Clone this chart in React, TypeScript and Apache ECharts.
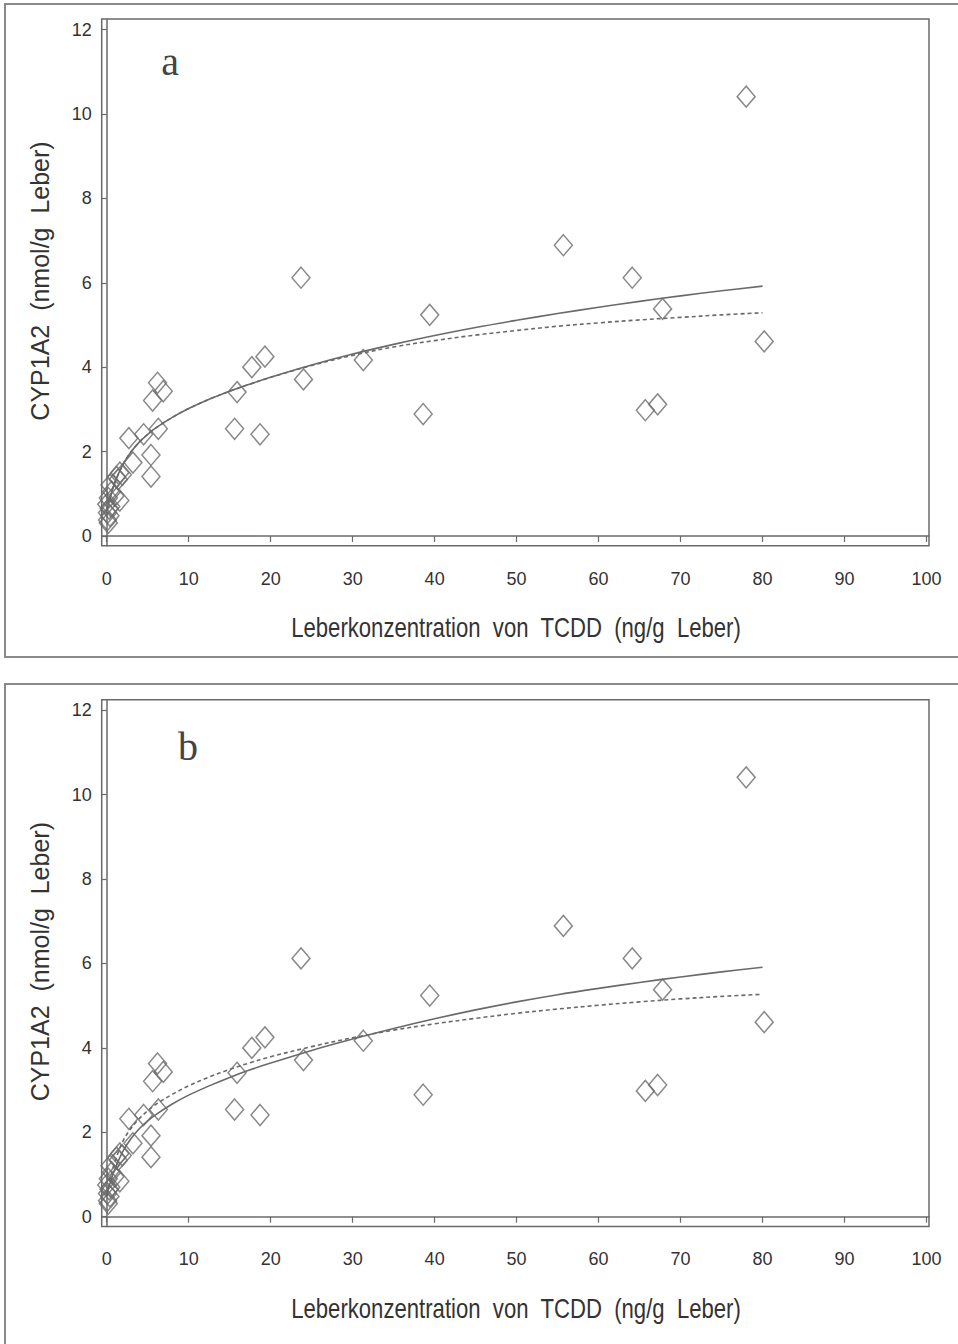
import React, { useEffect, useRef } from "react";
import * as echarts from "echarts";

// Scatter data (same in both panels)
const pointsX = [78.0, 55.7, 23.7, 64.1, 67.8, 39.4, 80.2, 31.3, 19.3, 17.7, 24.0, 15.9, 6.2, 6.9, 5.6, 38.6, 65.7, 67.2, 15.6, 18.7, 6.3, 4.5, 2.7, 5.4, 3.2, 5.4, 1.2, 1.6, 1.9, 1.4, 0.4, 1.6, 1.0, 0.6, 0.2, 0.0, 0.3, 0.1, 0.4, 0.1, 0.2, 0.5];
const pointsY = [10.41, 6.89, 6.12, 6.12, 5.38, 5.24, 4.61, 4.17, 4.25, 4.0, 3.71, 3.41, 3.63, 3.43, 3.21, 2.89, 2.98, 3.12, 2.54, 2.41, 2.54, 2.41, 2.32, 1.92, 1.74, 1.41, 1.40, 1.50, 1.45, 1.34, 1.21, 0.84, 0.95, 1.05, 0.90, 0.75, 0.65, 0.55, 0.48, 0.38, 0.31, 0.70];

// Fitted curves
const curveX = [0, 0.5, 1, 2, 3, 4, 5, 6, 8, 10, 12.5, 15, 17.5, 20, 25, 30, 35, 40, 45, 50, 55, 60, 65, 70, 75, 80];
const solidA = [0.6, 0.97, 1.27, 1.7, 2.0, 2.23, 2.41, 2.56, 2.81, 3.02, 3.24, 3.43, 3.6, 3.76, 4.05, 4.31, 4.54, 4.75, 4.94, 5.11, 5.27, 5.42, 5.56, 5.69, 5.81, 5.92];
const dashedA = [0.6, 0.97, 1.27, 1.7, 2.0, 2.23, 2.41, 2.56, 2.81, 3.02, 3.24, 3.43, 3.6, 3.76, 4.04, 4.28, 4.48, 4.63, 4.76, 4.87, 4.97, 5.05, 5.12, 5.18, 5.24, 5.29];
const solidB = [0.5, 0.85, 1.13, 1.56, 1.86, 2.09, 2.27, 2.42, 2.67, 2.88, 3.1, 3.3, 3.48, 3.64, 3.94, 4.21, 4.46, 4.69, 4.9, 5.09, 5.26, 5.41, 5.55, 5.68, 5.8, 5.91];
const dashedB = [0.5, 0.95, 1.3, 1.8, 2.1, 2.33, 2.51, 2.66, 2.9, 3.1, 3.31, 3.49, 3.65, 3.79, 4.03, 4.24, 4.42, 4.57, 4.7, 4.82, 4.92, 5.01, 5.09, 5.16, 5.22, 5.27];

const xTicks = [0, 10, 20, 30, 40, 50, 60, 70, 80, 90, 100];
const yTicks = [0, 2, 4, 6, 8, 10, 12];
const panelLabels = ["a", "b"];
const xTitle = "Leberkonzentration  von  TCDD  (ng/g  Leber)";
const yTitle = "CYP1A2  (nmol/g  Leber)";

const SANS = "'Liberation Sans', Arial, sans-serif";
const GRAY = "#6a6a6a";

export default function App() {
  const ref = useRef<HTMLDivElement>(null);
  useEffect(() => {
    if (!ref.current) return;
    const chart = echarts.init(ref.current, undefined, { renderer: "svg" });
    const offsets = [0, 680.7];
    const grids = offsets.map((o) => ({
      left: 101.7,
      top: 19 + o,
      width: 827.3,
      height: 526.7,
      show: true,
      borderColor: GRAY,
      borderWidth: 1.5,
      backgroundColor: "transparent",
    }));
    const xAxes = offsets.map((_, i) => ({
      type: "value",
      gridIndex: i,
      min: -0.61,
      max: 100.3,
      axisLine: { show: true, lineStyle: { color: GRAY, width: 1.5 } },
      axisTick: { show: true, length: 6, customValues: xTicks, lineStyle: { color: GRAY, width: 1.2 } },
      axisLabel: { customValues: xTicks, margin: 24, color: "#333", fontSize: 18, fontFamily: SANS },
      splitLine: { show: false },
    }));
    const yAxes = offsets.map((_, i) => ({
      type: "value",
      gridIndex: i,
      min: -0.23,
      max: 12.25,
      axisLine: { show: true, lineStyle: { color: GRAY, width: 1.5 } },
      axisTick: { show: true, length: 5, customValues: yTicks, lineStyle: { color: GRAY, width: 1.2 } },
      axisLabel: { customValues: yTicks, margin: 10, color: "#333", fontSize: 18, fontFamily: SANS },
      splitLine: { show: false },
    }));
    const scatterData = pointsX.map((x, k) => [x, pointsY[k]]);
    const curves = [
      [solidA, dashedA],
      [solidB, dashedB],
    ];
    const series: any[] = [];
    offsets.forEach((_, i) => {
      series.push({
        type: "scatter",
        xAxisIndex: i,
        yAxisIndex: i,
        data: scatterData,
        symbol: "diamond",
        symbolSize: [18, 21],
        itemStyle: { color: "transparent", borderColor: GRAY, borderWidth: 1.5 },
        z: 3,
      });
      series.push({
        type: "line",
        xAxisIndex: i,
        yAxisIndex: i,
        data: curveX.map((x, k) => [x, curves[i][0][k]]),
        showSymbol: false,
        smooth: 0.35,
        lineStyle: { color: GRAY, width: 1.6, type: "solid" },
        z: 2,
      });
      series.push({
        type: "line",
        xAxisIndex: i,
        yAxisIndex: i,
        data: curveX.map((x, k) => [x, curves[i][1][k]]),
        showSymbol: false,
        smooth: 0.35,
        lineStyle: { color: GRAY, width: 1.6, type: [4, 3] },
        z: 2,
      });
    });
    const graphics: any[] = [];
    offsets.forEach((o, i) => {
      graphics.push({
        type: "rect",
        shape: { x: 5, y: i === 0 ? 4 : 684, width: 980, height: i === 0 ? 653 : 720 },
        style: { fill: "none", stroke: "#8a8a8a", lineWidth: 2 },
        silent: true,
        z: 0,
      });
      graphics.push({
        type: "text",
        x: i === 0 ? 170 : 188,
        y: i === 0 ? 61 : 746,
        style: {
          text: panelLabels[i],
          font: "40px 'Liberation Serif', 'DejaVu Serif', serif",
          fill: "#444",
          textAlign: "center",
          textVerticalAlign: "middle",
        },
      });
      graphics.push({
        type: "text",
        x: 516,
        y: 628 + o,
        scaleX: 0.82,
        style: {
          text: xTitle,
          font: "27px " + SANS,
          fill: "#333",
          textAlign: "center",
          textVerticalAlign: "middle",
        },
      });
      graphics.push({
        type: "text",
        x: 40,
        y: 281 + o,
        rotation: Math.PI / 2,
        style: {
          text: yTitle,
          font: "25px " + SANS,
          fill: "#333",
          textAlign: "center",
          textVerticalAlign: "middle",
        },
      });
    });
    chart.setOption({
      animation: false,
      backgroundColor: "#fff",
      grid: grids,
      xAxis: xAxes,
      yAxis: yAxes,
      series,
      graphic: graphics,
    });
    return () => chart.dispose();
  }, []);
  return (
    <div
      ref={ref}
      style={{ position: "absolute", left: 0, top: 0, width: 958, height: 1344, background: "#fff" }}
    />
  );
}
